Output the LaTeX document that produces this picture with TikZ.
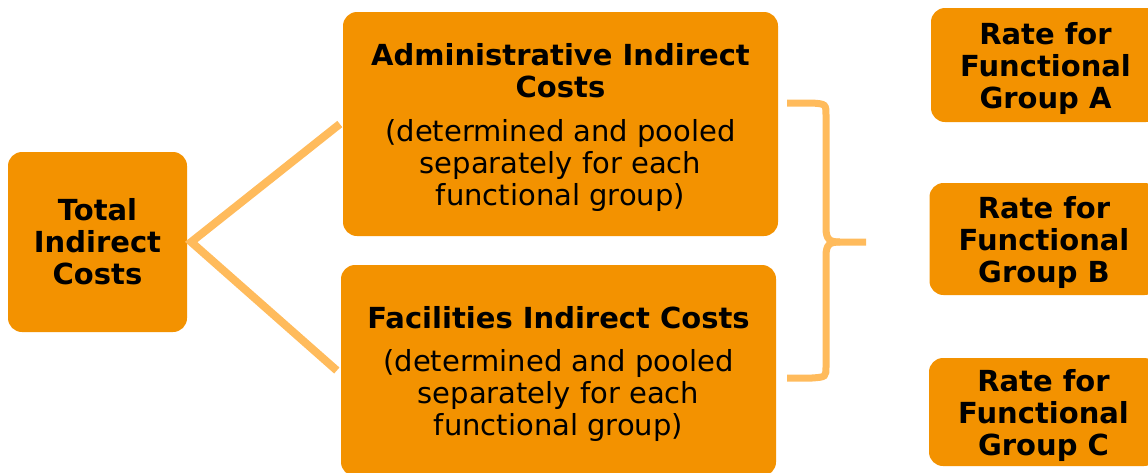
\documentclass[tikz,border=0pt]{standalone}
\usepackage{fontspec}
\setmainfont{DejaVu Sans}
\definecolor{boxorange}{HTML}{F39200}
\definecolor{linkorange}{HTML}{FFBB5C}
\tikzset{
  costbox/.style={fill=boxorange, rounded corners=14pt, align=center, inner sep=0pt},
  ratebox/.style={costbox, font=\fontsize{29}{32}\selectfont\bfseries, minimum width=229pt, text depth=0pt},
  link/.style={draw=linkorange, line width=8pt},
}
\begin{document}
\begin{tikzpicture}[x=1pt, y=-1pt, font=\fontsize{29}{32}\selectfont]
\clip (0,0) rectangle (1148,472);
\node[costbox, font=\fontsize{29}{32}\selectfont\bfseries, minimum width=179pt, minimum height=180pt] (total) at (97.5,242) {Total\\Indirect\\Costs};
\node[costbox, minimum width=435pt, minimum height=224pt, text depth=0pt] (admin) at (560.5,124)
  {\bfseries Administrative Indirect\\\bfseries Costs\\[12pt]\mdseries (determined and pooled\\\mdseries separately for each\\\mdseries functional group)};
\node[costbox, minimum width=435pt, minimum height=211pt, text depth=0pt] (facil) at (558.5,370.5)
  {\bfseries Facilities Indirect Costs\\[11pt]\mdseries (determined and pooled\\\mdseries separately for each\\\mdseries functional group)};
\node[ratebox, minimum height=114pt] (rateA) at (1045.5,65) {Rate for\\Functional\\Group A};
\node[ratebox, minimum height=112pt] (rateB) at (1044,239) {Rate for\\Functional\\Group B};
\node[ratebox, minimum height=108pt] (rateC) at (1043.5,412) {Rate for\\Functional\\Group C};

\draw[link] ([xshift=-3pt]admin.west) -- ([xshift=4pt]total.east) -- ([xshift=-4pt]facil.west);

% brace
\coordinate (btop) at (787,103);
\coordinate (bbot) at (787,378);
\coordinate (btip) at (866,242);
\draw[link, line width=7pt] (btop) -- (812,103) .. controls (826,104) .. (826,116)
  -- (826,228) .. controls (826,240) and (830,242) .. (840,242) -- (btip);
\draw[link, line width=7pt] (bbot) -- (812,378) .. controls (826,377) .. (826,366)
  -- (826,256) .. controls (826,244) and (830,242) .. (840,242);
\end{tikzpicture}
\end{document}
